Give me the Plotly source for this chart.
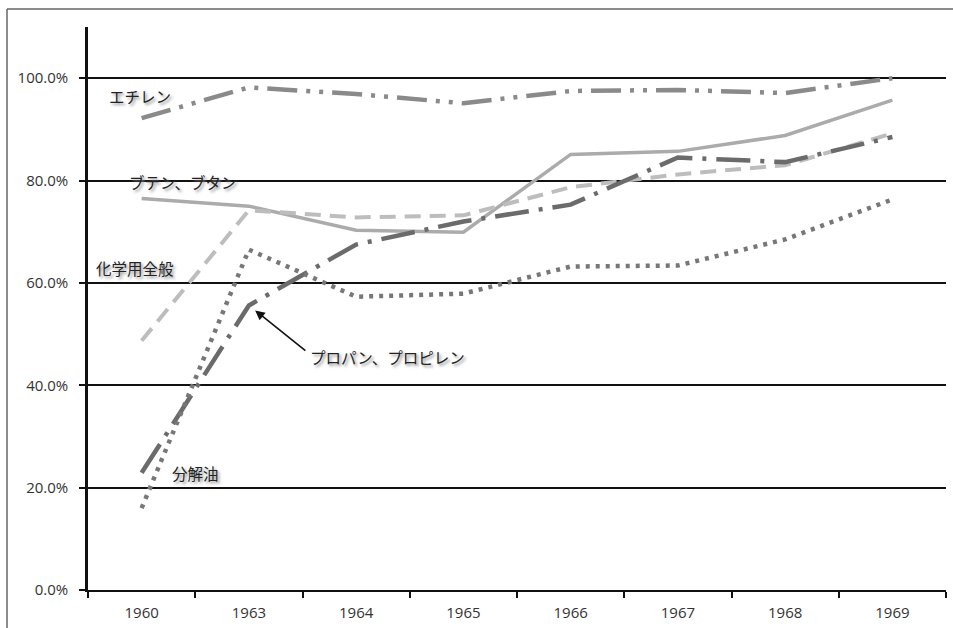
import plotly.graph_objects as go

years = ["1960", "1963", "1964", "1965", "1966", "1967", "1968", "1969"]
ethylene = [92.2, 98.2, 96.9, 95.1, 97.5, 97.7, 97.1, 100.0]
butene = [76.5, 75.0, 70.3, 69.9, 85.1, 85.7, 88.8, 95.7]
chemical = [48.7, 74.2, 72.8, 73.2, 78.7, 81.2, 83.0, 89.2]
propane = [22.9, 55.6, 67.5, 72.0, 75.3, 84.5, 83.6, 88.5]
cracked = [16.0, 66.5, 57.3, 57.9, 63.2, 63.4, 68.5, 76.3]
y_ticks = [0, 20, 40, 60, 80, 100]
y_tick_labels = ["0.0%", "20.0%", "40.0%", "60.0%", "80.0%", "100.0%"]

series = [
    ("エチレン", ethylene, "#8a8a8a", 4.5, "30px,9px,4px,9px,4px,9px"),
    ("ブテン、ブタン", butene, "#ababab", 3.5, "solid"),
    ("化学用全般", chemical, "#bdbdbd", 4, "16px,9px"),
    ("プロパン、プロピレン", propane, "#6b6b6b", 4.5, "34px,10px,4px,10px"),
    ("分解油", cracked, "#777777", 4.5, "4px,6px"),
]

fig = go.Figure()
for name, vals, color, width, dash in series:
    fig.add_trace(go.Scatter(
        x=years, y=vals, mode="lines", name=name,
        line=dict(color=color, width=width, dash=dash),
        showlegend=False, hoverinfo="skip",
    ))

jp_font = dict(family="Noto Sans CJK JP", size=15.5, color="#222222",
               shadow="2px 2px 3px #8a8a8a")
labels = [
    ("エチレン", -0.015, 96.5),
    ("ブテン、ブタン", 0.386, 79.8),
    ("化学用全般", -0.062, 63.0),
    ("プロパン、プロピレン", 2.29, 45.6),
    ("分解油", 0.498, 22.9),
]
for text, xi, yv in labels:
    fig.add_annotation(x=xi, y=yv, xref="x", yref="y", text=text,
                       showarrow=False, font=jp_font)

fig.add_annotation(x=1, y=propane[1], xref="x", yref="y", text=" ",
                   showarrow=True, ax=60, ay=48, axref="pixel", ayref="pixel",
                   arrowhead=2, arrowsize=1.2,
                   arrowwidth=1.6, arrowcolor="#111111", standoff=8)

# outer frame (top and left)
fig.add_shape(type="line", xref="paper", yref="paper", x0=-0.0944, x1=1.01,
              y0=1.032, y1=1.032, line=dict(color="#8c8c8c", width=2))
fig.add_shape(type="line", xref="paper", yref="paper", x0=-0.0944, x1=-0.0944,
              y0=1.032, y1=-0.08, line=dict(color="#666666", width=1.5))

fig.update_layout(
    width=953, height=628,
    margin=dict(l=88, r=7, t=27, b=38),
    paper_bgcolor="white", plot_bgcolor="white",
    font=dict(family="Open Sans", size=15, color="#222222"),
)
fig.update_xaxes(
    type="category", tickson="boundaries", range=[-0.5, 7.5],
    showgrid=False, showline=True, linecolor="#111111", linewidth=2,
    ticks="outside", ticklen=6, tickwidth=2, tickcolor="#111111",
    tickfont=dict(size=15, color="#333333"), ticklabelstandoff=8,
    automargin=False,
)
fig.update_yaxes(
    range=[0, 110], tickvals=y_ticks, ticktext=y_tick_labels,
    showgrid=True, gridcolor="#111111", gridwidth=2,
    showline=True, linecolor="#111111", linewidth=2.5,
    ticks="outside", ticklen=6, tickwidth=2, tickcolor="#111111",
    tickfont=dict(size=15, color="#333333"), zeroline=False,
    ticklabelstandoff=8, automargin=False,
)

fig.write_html("out.html")
